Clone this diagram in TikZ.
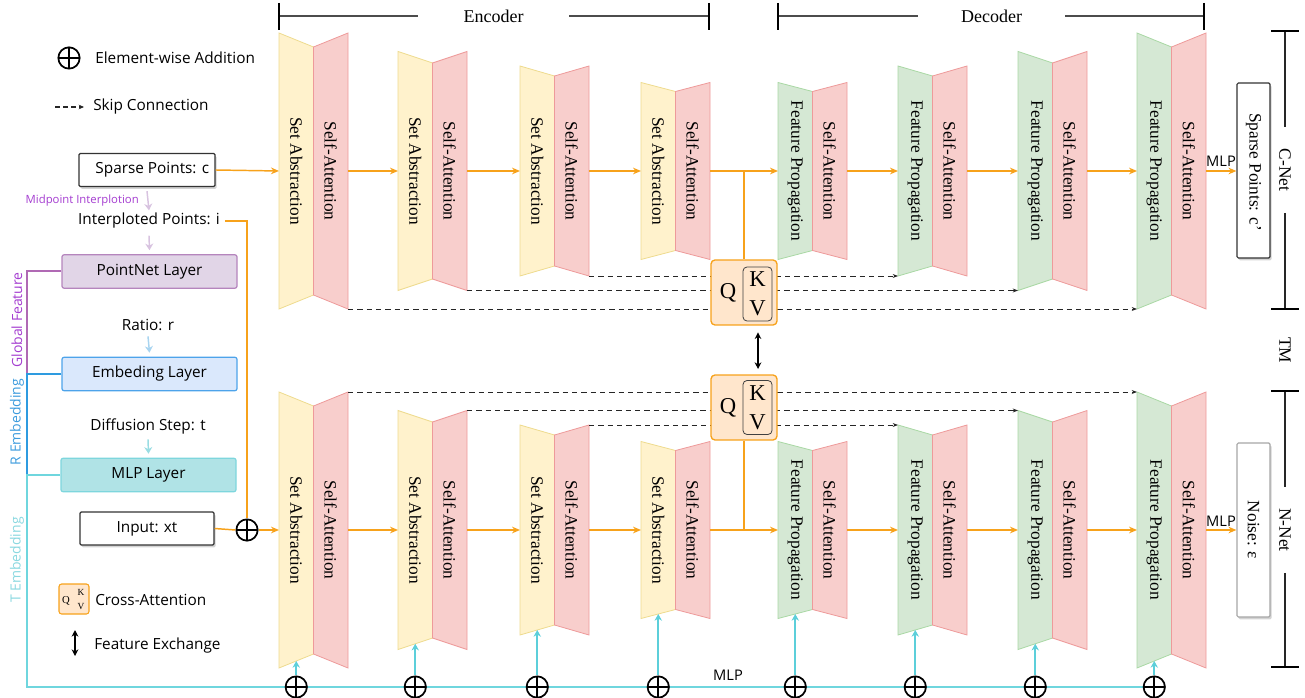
\documentclass[tikz,border=0pt]{standalone}
\usepackage{fontspec}
\setmainfont{Liberation Serif}
\newfontfamily\sansf{Open Sans}
\usetikzlibrary{arrows.meta,shadows,calc}

\definecolor{yfill}{HTML}{FFF2CC}
\definecolor{ydraw}{HTML}{EEDB8E}
\definecolor{pfill}{HTML}{F8CECC}
\definecolor{pdraw}{HTML}{EE9A9A}
\definecolor{gfill}{HTML}{D5E8D4}
\definecolor{gdraw}{HTML}{A9D8A4}
\definecolor{orng}{HTML}{F7A21B}
\definecolor{qfill}{HTML}{FFE6CC}
\definecolor{cyanl}{HTML}{6FD6DE}
\definecolor{cyarr}{HTML}{5CCFDA}
\definecolor{purpl}{HTML}{B069B4}
\definecolor{purtxt}{HTML}{A43CD0}
\definecolor{bluel}{HTML}{2E9BE0}
\definecolor{bluetxt}{HTML}{3C9BDD}
\definecolor{ttxt}{HTML}{8AD8E0}
\definecolor{lpurp}{HTML}{D8C3E0}
\definecolor{lblue}{HTML}{A8D4F0}
\definecolor{lcyan}{HTML}{9ADDE3}
\definecolor{pnfill}{HTML}{E1D5E7}
\definecolor{pndraw}{HTML}{B585BD}
\definecolor{emfill}{HTML}{DAE8FC}
\definecolor{emdraw}{HTML}{4DA3EA}
\definecolor{mlfill}{HTML}{B0E3E6}
\definecolor{mldraw}{HTML}{7ED6DD}

\tikzset{
 blktxt/.style={rotate=-90, font=\fontsize{13}{15}\selectfont, inner sep=0pt},
 ytrap/.style={fill=yfill, draw=ydraw, line width=0.6pt},
 gtrap/.style={fill=gfill, draw=gdraw, line width=0.6pt},
 ptrap/.style={fill=pfill, draw=pdraw, line width=0.6pt},
 oline/.style={draw=orng, line width=1.1pt},
 oarrow/.style={oline, -{Stealth[length=6pt,width=5pt]}},
 skiparrow/.style={draw=black!85, line width=0.7pt, dash pattern=on 4pt off 3pt, -{Stealth[length=4pt,width=3pt]}},
 cyline/.style={draw=cyanl, line width=1.7pt},
 cyarrow/.style={draw=cyarr, line width=1.4pt, -{Stealth[length=5pt,width=5.5pt]}},
 oplus/.style={circle, draw, line width=1.3pt, minimum size=16pt, inner sep=0pt, fill=white,
   path picture={\draw[line width=1.3pt] (path picture bounding box.north) -- (path picture bounding box.south) (path picture bounding box.west) -- (path picture bounding box.east);}},
 stxt/.style={font=\sansf\fontsize{11.5}{13}\selectfont, inner sep=0pt, text=black},
 mtxt/.style={font=\sansf\fontsize{11}{13}\selectfont, inner sep=0pt, text=black},
 sidetxt/.style={rotate=90, font=\sansf\fontsize{10.5}{12}\selectfont, inner sep=0pt},
 whitebox/.style={draw=black!80, line width=0.9pt, fill=white, minimum height=24.75pt, rounded corners=1pt,
   drop shadow={opacity=0.35, shadow xshift=1.2pt, shadow yshift=-1.8pt}},
 layerbox/.style={line width=0.9pt, minimum width=131.25pt, minimum height=25pt, rounded corners=1.5pt},
 qkvbox/.style={draw=orng, fill=qfill, rounded corners=3pt, line width=1pt, minimum width=49.5pt, minimum height=48.75pt, inner sep=0pt},
 kvbox/.style={draw=black!75, fill=qfill, rounded corners=3pt, line width=0.6pt, minimum width=21.75pt, minimum height=40.5pt, inner sep=0pt},
 qtxt/.style={font=\fontsize{17}{17}\selectfont, inner sep=0pt},
 barline/.style={draw=black!70, line width=0.8pt},
 tickline/.style={draw=black, line width=2pt},
 rtxt/.style={rotate=-90, font=\fontsize{13}{15}\selectfont, inner sep=0pt},
 smallarrow/.style={line width=1.1pt, -{Stealth[length=5pt,width=6pt]}},
}

% name, x0, cy, H, h, left style, left text
\newcommand\blockpair[7]{%
 \path[#6] (#2,#3-#4) -- (#2+34.5,#3-#5) -- (#2+34.5,#3+#5) -- (#2,#3+#4) -- cycle;
 \path[ptrap] (#2+34.5,#3-#5) -- (#2+69,#3-#4) -- (#2+69,#3+#4) -- (#2+34.5,#3+#5) -- cycle;
 \node[blktxt] (#1a) at (#2+17.25,#3) {#7};
 \node[blktxt] (#1b) at (#2+51.75,#3) {Self-Attention};
 \coordinate (#1in) at (#2,#3);
 \coordinate (#1out) at (#2+69,#3);
 \coordinate (#1tr) at (#2+69,#3-#4);
 \coordinate (#1br) at (#2+69,#3+#4);
 \coordinate (#1tl) at (#2,#3-#4);
 \coordinate (#1bl) at (#2,#3+#4);
 \coordinate (#1bot) at (#2+17.25,{#3+(#4+#5)/2});
}

\begin{document}
\begin{tikzpicture}[x=0.75pt,y=-0.75pt]
\useasboundingbox (0,0) rectangle (1305,698);

% ---------------- blocks -----------------
\blockpair{ce1}{279}{171}{138}{124}{ytrap}{Set Abstraction}
\blockpair{ce2}{398}{171}{119.5}{108}{ytrap}{Set Abstraction}
\blockpair{ce3}{520}{171}{105}{95}{ytrap}{Set Abstraction}
\blockpair{ce4}{641}{171}{88.5}{79.5}{ytrap}{Set Abstraction}
\blockpair{cd1}{778}{171}{88.5}{79.5}{gtrap}{Feature Propagation}
\blockpair{cd2}{898}{171}{105}{95}{gtrap}{Feature Propagation}
\blockpair{cd3}{1018}{171}{119.5}{108}{gtrap}{Feature Propagation}
\blockpair{cd4}{1137}{171}{138}{124}{gtrap}{Feature Propagation}

\blockpair{ne1}{279}{530}{138}{124}{ytrap}{Set Abstraction}
\blockpair{ne2}{398}{530}{119.5}{108}{ytrap}{Set Abstraction}
\blockpair{ne3}{520}{530}{105}{95}{ytrap}{Set Abstraction}
\blockpair{ne4}{641}{530}{88.5}{79.5}{ytrap}{Set Abstraction}
\blockpair{nd1}{778}{530}{88.5}{79.5}{gtrap}{Feature Propagation}
\blockpair{nd2}{898}{530}{105}{95}{gtrap}{Feature Propagation}
\blockpair{nd3}{1018}{530}{119.5}{108}{gtrap}{Feature Propagation}
\blockpair{nd4}{1137}{530}{138}{124}{gtrap}{Feature Propagation}

% ---------------- skip connections -----------------
\draw[skiparrow] (ce3br) -- (cd2bl);
\draw[skiparrow] (ce2br) -- (cd3bl);
\draw[skiparrow] (ce1br) -- (cd4bl);
\draw[skiparrow] (ne1tr) -- (nd4tl);
\draw[skiparrow] (ne2tr) -- (nd3tl);
\draw[skiparrow] (ne3tr) -- (nd2tl);

% ---------------- cross attention -----------------
\node[qkvbox] (qkvU) at (744,292.5) {};
\node[kvbox] (kvU) at (757.5,294) {};
\node[qtxt] (qU) at (728,293) {Q};
\node[qtxt] (kU) at (757.5,279) {K};
\node[qtxt] (vU) at (757.5,308) {V};

\node[qkvbox] (qkvL) at (744,407.5) {};
\node[kvbox] (kvL) at (757.5,407.5) {};
\node[qtxt] (qL) at (728,408) {Q};
\node[qtxt] (kL) at (757.5,393) {K};
\node[qtxt] (vL) at (757.5,422) {V};

\draw[line width=1pt, {Stealth[length=5pt,width=5pt]}-{Stealth[length=5pt,width=5pt]}, shorten <=5pt, shorten >=4pt]
  ([xshift=10.5pt]qkvU.south) -- ([xshift=10.5pt]qkvL.north);

% ---------------- orange main flow -----------------
\coordinate (jU) at (744,171);
\coordinate (jL) at (744,530);
\draw[oarrow] (ce1out) -- (ce2in);
\draw[oarrow] (ce2out) -- (ce3in);
\draw[oarrow] (ce3out) -- (ce4in);
\draw[oarrow] (ce4out) -- (cd1in);
\draw[oline] (jU) -- (qkvU.north);
\draw[oarrow] (cd1out) -- (cd2in);
\draw[oarrow] (cd2out) -- (cd3in);
\draw[oarrow] (cd3out) -- (cd4in);

\draw[oarrow] (ne1out) -- (ne2in);
\draw[oarrow] (ne2out) -- (ne3in);
\draw[oarrow] (ne3out) -- (ne4in);
\draw[oarrow] (ne4out) -- (nd1in);
\draw[oline] (qkvL.south) -- (jL);
\draw[oarrow] (nd1out) -- (nd2in);
\draw[oarrow] (nd2out) -- (nd3in);
\draw[oarrow] (nd3out) -- (nd4in);

% ---------------- outputs -----------------
\node[whitebox, minimum width=24.75pt, minimum height=131.25pt, inner sep=0pt] (cout) at (1253.5,170.5) {};
\node[rtxt] (couttxt) at (1253.5,172) {Sparse Points: c’};
\node[whitebox, draw=black!35, minimum width=24.75pt, minimum height=130.5pt, inner sep=0pt] (nout) at (1253.5,530) {};
\node[rtxt] (nouttxt) at (1253.5,530) {Noise: ε};
\draw[oarrow] (cd4out) -- (cout.west |- cd4out);
\draw[oarrow] (nd4out) -- (nout.west |- nd4out);
\node[mtxt] (mlpU) at (1221,161) {MLP};
\node[mtxt] (mlpL) at (1221,521) {MLP};

% ---------------- top brackets -----------------
\coordinate (encL) at (279,16);
\coordinate (encR) at (709,16);
\coordinate (decL) at (778,16);
\coordinate (decR) at (1204,16);
\node[font=\fontsize{13.5}{15}\selectfont, inner ysep=0pt, inner xsep=0pt, minimum width=113pt] (enc) at (493.5,16) {Encoder};
\node[font=\fontsize{13.5}{15}\selectfont, inner ysep=0pt, inner xsep=0pt, minimum width=110pt] (dec) at (991.5,16) {Decoder};
\draw[barline] (encL) -- (enc.west);
\draw[barline] (enc.east) -- (encR);
\draw[barline] (decL) -- (dec.west);
\draw[barline] (dec.east) -- (decR);
\draw[tickline] (279,3) -- (279,30);
\draw[tickline] (709,3) -- (709,30);
\draw[tickline] (778,3) -- (778,30);
\draw[tickline] (1204,3) -- (1204,30);

% ---------------- right brackets -----------------
\coordinate (cnT) at (1285,31);
\coordinate (cnB) at (1285,309);
\coordinate (nnT) at (1285,391);
\coordinate (nnB) at (1285,667);
\node[rtxt, minimum width=64pt] (cnet) at (1285,170) {C-Net};
\node[rtxt, minimum width=64pt] (nnet) at (1285,530) {N-Net};
\node[rtxt] (tm) at (1285,350) {TM};
\draw[barline, draw=black!85] (cnT) -- (cnet.west);
\draw[barline, draw=black!85] (cnet.east) -- (cnB);
\draw[barline, draw=black!85] (nnT) -- (nnet.west);
\draw[barline, draw=black!85] (nnet.east) -- (nnB);
\draw[tickline] (1271,31) -- (1299,31);
\draw[tickline] (1271,309) -- (1299,309);
\draw[tickline] (1271,391) -- (1299,391);
\draw[tickline] (1271,667) -- (1299,667);

% ---------------- left column -----------------
\node[oplus] (lgadd) at (69,58) {};
\node[stxt, anchor=west] (lgaddt) at (95,58) {Element-wise Addition};
\coordinate (sk1) at (55,107);
\coordinate (sk2) at (84,107);
\draw[draw=black!85, line width=0.8pt, dash pattern=on 3.5pt off 2.5pt, -{Stealth[length=4pt,width=3.5pt]}] (sk1) -- (sk2);
\node[stxt, anchor=west] (lgskip) at (93,107) {Skip Connection};

\node[whitebox, stxt, minimum width=102pt, minimum height=24.75pt] (spc) at (147,170) {\hspace*{8pt}Sparse Points: c};
\node[stxt] (interp) at (149,221) {Interploted Points: i};
\node[font=\sansf\fontsize{8.5}{10}\selectfont, text=purtxt, anchor=east, inner sep=0pt] (midp) at (139,201) {Midpoint Interplotion};
\node[layerbox, stxt, draw=pndraw, fill=pnfill] (pn) at (149.5,271.5) {PointNet Layer};
\node[stxt] (ratio) at (148,325) {Ratio: r};
\node[layerbox, stxt, draw=emdraw, fill=emfill] (em) at (149.5,374) {Embeding Layer};
\node[stxt] (diff) at (148,426) {Diffusion Step: t};
\node[layerbox, stxt, draw=mldraw, fill=mlfill] (ml) at (148.5,475) {MLP Layer};
\node[whitebox, stxt, minimum width=100.5pt, minimum height=24.75pt] (inp) at (147,528.5) {Input: xt};

\draw[smallarrow, draw=lpurp] ([yshift=-3pt]spc.south) -- ([yshift=2pt]interp.north);
\draw[smallarrow, draw=lpurp] ([yshift=-5pt]interp.south) -- ([yshift=3pt]pn.north);
\draw[smallarrow, draw=lblue] ([yshift=-4pt]ratio.south) -- ([yshift=3pt]em.north);
\draw[smallarrow, draw=lcyan] ([yshift=-4pt]diff.south) -- ([yshift=3pt]ml.north);

% inputs to networks
\draw[oarrow] (spc.east) -- (ce1in);
\node[oplus] (addIn) at (247,530) {};
\draw[oline] ([xshift=3.5pt]interp.east) -| (addIn.north);
\draw[oline] (inp.east) -- (addIn.west);
\draw[oarrow] (addIn.east) -- (ne1in);

% side embedding lines
\coordinate (gfEnd) at (27,374);
\coordinate (reEnd) at (27,475);
\coordinate (tCorner) at (27,687);
\draw[draw=purpl, line width=1.5pt] (pn.west) -| (gfEnd);
\draw[draw=bluel, line width=1.5pt] (em.west) -| (reEnd);
\node[sidetxt, text=purtxt] (gft) at (17,320) {Global Feature};
\node[sidetxt, text=bluetxt] (ret) at (17,422) {R Embedding};
\node[sidetxt, text=ttxt] (tet) at (17,560) {T Embedding};

% bottom time embedding line
\coordinate (a8pos) at (1155,687);
\draw[cyline] (ml.west) -| (tCorner) -- (a8pos);
\node[mtxt] (mlpB) at (728,675) {MLP};
\node[oplus] (a1) at (296.25,687) {};
\node[oplus] (a2) at (415.25,687) {};
\node[oplus] (a3) at (537.25,687) {};
\node[oplus] (a4) at (658.25,687) {};
\node[oplus] (a5) at (795.25,687) {};
\node[oplus] (a6) at (915.25,687) {};
\node[oplus] (a7) at (1035.25,687) {};
\node[oplus] (a8) at (1154.25,687) {};
\draw[cyarrow] (a1.north) -- (ne1bot);
\draw[cyarrow] (a2.north) -- (ne2bot);
\draw[cyarrow] (a3.north) -- (ne3bot);
\draw[cyarrow] (a4.north) -- (ne4bot);
\draw[cyarrow] (a5.north) -- (nd1bot);
\draw[cyarrow] (a6.north) -- (nd2bot);
\draw[cyarrow] (a7.north) -- (nd3bot);
\draw[cyarrow] (a8.north) -- (nd4bot);

% legend: cross-attention and feature exchange
\node[draw=orng, fill=qfill, rounded corners=2pt, line width=0.8pt, minimum width=22.5pt, minimum height=22.5pt, inner sep=0pt] (lgq) at (74,599) {};
\node[font=\fontsize{8}{8}\selectfont, inner sep=0pt] (lgQ) at (66,601) {Q};
\node[font=\fontsize{7}{7}\selectfont, inner sep=0pt] (lgK) at (81,592) {K};
\node[font=\fontsize{7}{7}\selectfont, inner sep=0pt] (lgV) at (81,607) {V};
\node[stxt, anchor=west] (lgca) at (95,600) {Cross-Attention};
\coordinate (fe1) at (75,630);
\coordinate (fe2) at (75,656);
\draw[line width=1pt, {Stealth[length=5pt,width=5pt]}-{Stealth[length=5pt,width=5pt]}] (fe1) -- (fe2);
\node[stxt, anchor=west] (lgfe) at (94,646) {Feature Exchange};
\end{tikzpicture}
\end{document}
